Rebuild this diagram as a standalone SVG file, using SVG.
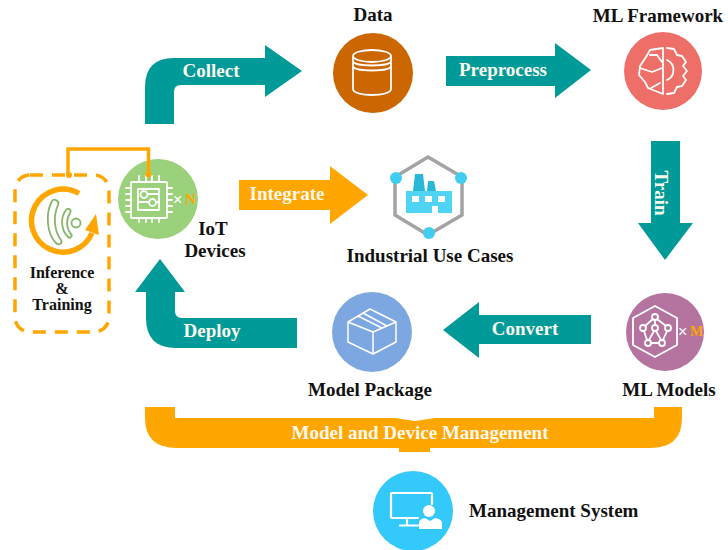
<svg xmlns="http://www.w3.org/2000/svg" width="728" height="550" viewBox="0 0 728 550">
<style>
text{font-family:"Liberation Serif",serif;font-weight:700;fill:#111}
.l{font-size:19px}
.w{fill:#fdf8ee;font-size:19px;text-anchor:middle}
.ic{fill:none;stroke:#fff;stroke-width:1.8;stroke-linejoin:round;stroke-linecap:round}
.teal{fill:#009b98}.or{fill:#ffa600}
.xw{fill:#fff;font-size:16px;font-weight:400;font-family:"Liberation Sans",sans-serif}
.o{fill:#ffa600;font-size:15px}
.sm{font-size:16px;text-anchor:middle}
</style>
<rect width="728" height="550" fill="#fff"/>
<g id="data">
<text class="l" x="373" y="21" text-anchor="middle">Data</text>
<circle cx="373" cy="73" r="40" fill="#cc6600"/>
<g class="ic">
<ellipse cx="372" cy="56" rx="19" ry="6"/>
<path d="M353 56V89C353 97 391 97 391 89V56M353 61C353 67 391 67 391 61M353 66C353 72 391 72 391 66"/>
</g>
</g>
<g id="ml-framework">
<text class="l" x="658" y="22" text-anchor="middle">ML Framework</text>
<circle cx="663" cy="71" r="39" fill="#ee6e68"/>
<path class="ic" d="M663 48L650 50L646 57L640 66L639 75L645 82L648 88L663 94V48M650 55H657L662 62M640 68L652 72L662 68M651 88L660 83"/>
<path class="ic" d="M667 48L674 49L677 55L682 56L686 62L683 66L687 71L683 76L686 80L682 86L677 87L674 93L667 94M667 60A11 11 0 0 1 667 80"/>
</g>
<g id="iot-devices">
<circle cx="158" cy="199" r="40" fill="#9bd17b"/>
<g class="ic">
<rect x="131" y="182" width="36" height="36" rx="1"/>
<path d="M138 189H159V210H138ZM138 202H148M148 194H159M157 202H159"/>
<circle cx="144" cy="194.500" r="3.500"/><circle cx="152.500" cy="202.500" r="3.500"/>
<path d="M139 176V182M146 176V182M152 176V182M159 176V182M139 218V222M146 218V222M152 218V222M159 218V222M126 188H131M126 194H131M126 200H131M126 206H131M126 212H131M167 188H172M167 194H172M167 200H172M167 206H172M167 212H172"/>
</g>
<text class="xw" x="173" y="205">×</text>
<text class="o" x="185" y="204">N</text>
<text class="l" x="213" y="235" text-anchor="middle">IoT</text>
<text class="l" x="215" y="257" text-anchor="middle">Devices</text>
</g>
<g id="inference-training">
<rect x="15" y="175" width="94" height="157" rx="15" fill="none" stroke="#ffa600" stroke-width="3.500" stroke-dasharray="13 9"/>
<path d="M79 193.500A31.500 31.500 0 1 0 92 233" fill="none" stroke="#ffa600" stroke-width="5.500"/>
<path d="M96 214L99 235L85 230Z" fill="#ffa600"/>
<g fill="none" stroke="#86b56b" stroke-width="1.800">
<circle cx="76" cy="223" r="4.500"/>
<path d="M66 210C60 218 61 230 68 237C70 239 73 236 71 234C66 228 66 219 70 213C72 210 68 207 66 210Z"/>
<path d="M52 201C45 214 47 234 56 243C59 246 63 243 61 240C54 231 53 216 58 205C60 201 54 198 52 201Z"/>
</g>
<text class="sm" x="62" y="278">Inference</text>
<text class="sm" x="62" y="294">&amp;</text>
<text class="sm" x="62" y="310">Training</text>
</g>
<g id="industrial-use-cases">
<path d="M428 157L462 177V215L428 235L395 215V177Z" fill="none" stroke="#a3a3a3" stroke-width="3.500"/>
<path d="M413 191L415 174H423L425 191ZM427 191L428 181H434L436 191Z" fill="#2ab8d8"/>
<path d="M406 191H452V213H438V206H432V213H406Z" fill="#4fd4f4"/>
<rect x="412" y="196" width="7" height="6" fill="#fff"/><rect x="425" y="196" width="7" height="6" fill="#fff"/><rect x="438" y="196" width="7" height="6" fill="#fff"/>
<circle cx="396" cy="178" r="6" fill="#40cdf0"/><circle cx="461" cy="178" r="6" fill="#40cdf0"/><circle cx="429" cy="233" r="6" fill="#40cdf0"/>
<text class="l" x="430" y="262" text-anchor="middle">Industrial Use Cases</text>
</g>
<g id="ml-models">
<circle cx="665" cy="332" r="39" fill="#b5739f"/>
<path class="ic" d="M655 306L677 318V345L655 357L633 345V318Z"/>
<g class="ic"><circle cx="655" cy="317" r="3"/><circle cx="643" cy="328" r="3"/><circle cx="668" cy="328" r="3"/><circle cx="655" cy="328" r="3"/><circle cx="648" cy="343" r="3"/><circle cx="662" cy="343" r="3"/>
<path d="M653 319L645 326M657 319L666 326M655 320V325M644 331L647 340M667 331L663 340M654 331L649 340M656 331L661 340M651 343H659"/></g>
<text class="xw" x="678" y="337">×</text>
<text class="o" x="690" y="336" style="font-size:14px">M</text>
<text class="l" x="669" y="396" text-anchor="middle">ML Models</text>
</g>
<g id="model-package">
<circle cx="372" cy="332" r="40" fill="#7da7e0"/>
<g class="ic" style="stroke-width:1.500">
<path d="M348 322L370 309L396 322L373 332ZM348 322V342L373 354V332M396 322V342L373 354"/>
<path d="M358 316L382 328M363 313L387 326"/>
</g>
<text class="l" x="370" y="396" text-anchor="middle">Model Package</text>
</g>
<g id="management-system">
<circle cx="413" cy="511" r="40" fill="#33c9fa"/>
<path class="ic" style="stroke-width:2.200" d="M418 518H392Q391 518 391 517V494Q391 493 392 493H431Q432 493 432 494V504M407 518V525M400 525.500H418"/>
<circle cx="429" cy="511" r="6" fill="#fff"/>
<path d="M419 529V523Q419 519 425 518L430 521L435 518Q442 519 442 523V529Z" fill="#fff"/>
<text class="l" x="469" y="517">Management System</text>
</g>
<g id="connectors">
<path class="teal" d="M145 124V87Q145 58 174 58H265V45L302 71L265 97V85H181Q174 85 174 92V124Z"/>
<path class="teal" d="M446 56H555V43L591 70L555 98V86H446Z"/>
<path class="teal" d="M651 141H680V223H693L665 260L638 223H651Z"/>
<path class="or" d="M239 180H330V166L368 195L330 224V210H239Z"/>
<path class="teal" d="M591 315V344H479V358L443 330L479 302V315Z"/>
<path class="teal" d="M297 318V348H176Q146 348 146 318V292H135L160 259L185 292H175V311Q175 318 182 318Z"/>
<path class="or" d="M145 407H175V418H395L415 421L435 418H654V407H682V418Q682 448 650 448H430V452H399V448H177Q145 448 145 418Z"/>
<path d="M68 175V149H148.500V174" fill="none" stroke="#ffa600" stroke-width="3.500"/>
<circle cx="69" cy="175" r="3" fill="#ffa600"/>
<circle cx="148.500" cy="174.500" r="3" fill="#ffa600"/>
</g>
<text class="w" x="211" y="77">Collect</text>
<text class="w" x="503" y="76">Preprocess</text>
<text class="w" x="287" y="200">Integrate</text>
<text class="w" x="525" y="335">Convert</text>
<text class="w" x="212" y="337">Deploy</text>
<text class="w" x="420" y="439">Model and Device Management</text>
<text class="w" transform="translate(655 193) rotate(90)">Train</text>
</svg>
